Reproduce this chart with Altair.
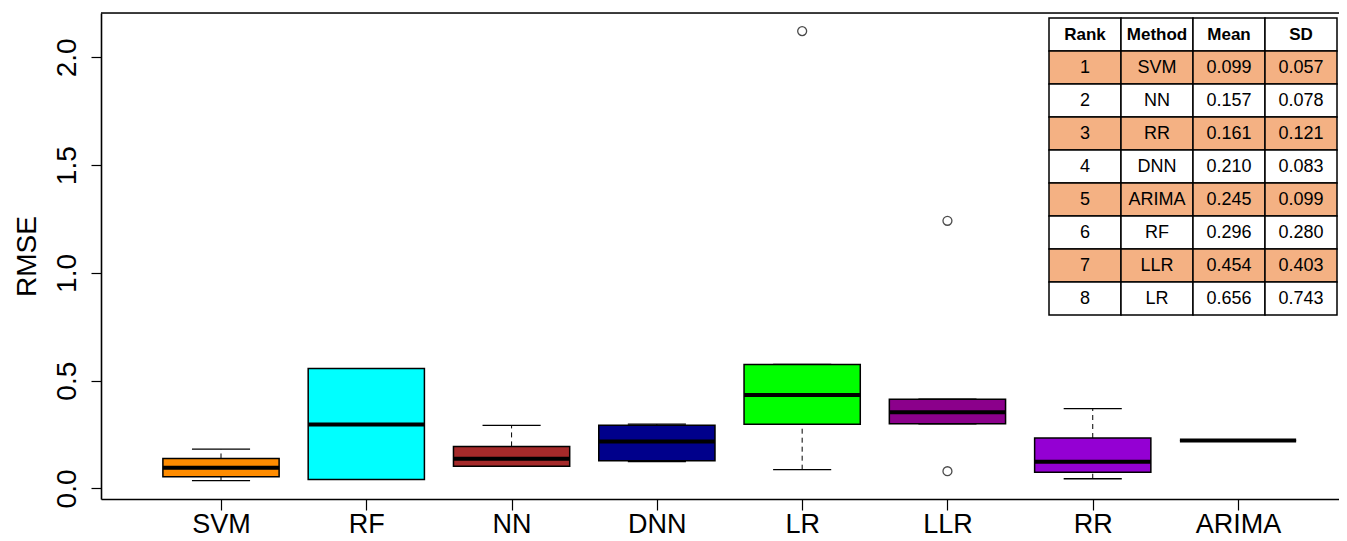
import json
import altair as alt
import pandas as pd

# ---- data ----
methods = ["SVM", "RF", "NN", "DNN", "LR", "LLR", "RR", "ARIMA"]
box_colors = ["#FF8C00", "#00FFFF", "#A52A2A", "#00008B", "#00FF00", "#8B008B", "#9400D3", "#FF0000"]
whisker_lo = [0.036, 0.042, 0.103, 0.124, 0.087, 0.300, 0.045, 0.222]
q1 = [0.054, 0.042, 0.103, 0.128, 0.298, 0.300, 0.075, 0.222]
median = [0.096, 0.297, 0.138, 0.218, 0.434, 0.354, 0.124, 0.222]
q3 = [0.139, 0.556, 0.195, 0.293, 0.575, 0.414, 0.234, 0.222]
whisker_hi = [0.182, 0.556, 0.293, 0.298, 0.575, 0.414, 0.370, 0.222]

outlier_method = ["LR", "LLR", "LLR"]
outlier_value = [2.122, 1.242, 0.080]

table_header = ["Rank", "Method", "Mean", "SD"]
table_rank = [1, 2, 3, 4, 5, 6, 7, 8]
table_method = ["SVM", "NN", "RR", "DNN", "ARIMA", "RF", "LLR", "LR"]
table_mean = [0.099, 0.157, 0.161, 0.210, 0.245, 0.296, 0.454, 0.656]
table_sd = [0.057, 0.078, 0.121, 0.083, 0.099, 0.280, 0.403, 0.743]

# ---- layout ----
W, H = 1238, 486
FONT = "Liberation Sans"
xs = alt.Scale(domain=[0.174, 8.695], nice=False, zero=False)
ys = alt.Scale(domain=[-0.049, 2.206], nice=False, zero=False)

box_df = pd.DataFrame({
    "method": methods,
    "pos": list(range(1, len(methods) + 1)),
    "lo": whisker_lo, "q1": q1, "med": median, "q3": q3, "hi": whisker_hi,
    "color": box_colors,
})
pos_of = {m: i + 1 for i, m in enumerate(methods)}
out_df = pd.DataFrame({"method": outlier_method, "value": outlier_value})
out_df["pos"] = out_df["method"].map(pos_of)

label_expr = json.dumps(methods) + "[datum.value - 1]"
x_axis = alt.Axis(values=list(range(1, 9)), labelExpr=label_expr, title=None, grid=False,
                  tickSize=11, tickColor="black", tickWidth=1.2, labelPadding=1,
                  labelFontSize=27, labelFont=FONT, labelColor="black",
                  domainColor="black", domainWidth=1.6)
y_axis = alt.Axis(values=[0, 0.5, 1.0, 1.5, 2.0], format=".1f", title="RMSE", grid=False,
                  tickSize=10, tickColor="black", tickWidth=1.2,
                  labelAngle=270, labelAlign="center", labelBaseline="alphabetic",
                  labelPadding=16, labelFontSize=28, labelFont=FONT, labelColor="black",
                  domainColor="black", domainWidth=1.6,
                  titleAngle=270, titleX=-66, titleY=243, titleAlign="center",
                  titleBaseline="alphabetic", titleFontSize=28, titleFont=FONT,
                  titleFontWeight="normal", titleColor="black")

base = alt.Chart(box_df).transform_calculate(
    xl="datum.pos - 0.4", xr="datum.pos + 0.4",
    cl="datum.pos - 0.2", cr="datum.pos + 0.2",
)

whisk_up = base.mark_rule(color="black", strokeWidth=1, strokeDash=[5, 4]).encode(
    x=alt.X("pos:Q", scale=xs, axis=x_axis),
    y=alt.Y("q3:Q", scale=ys, axis=y_axis), y2="hi:Q")
whisk_dn = base.mark_rule(color="black", strokeWidth=1, strokeDash=[5, 4]).encode(
    x=alt.X("pos:Q", scale=xs, axis=x_axis),
    y=alt.Y("lo:Q", scale=ys, axis=y_axis), y2="q1:Q")
cap_up = base.mark_rule(color="black", strokeWidth=1.3).encode(
    x=alt.X("cl:Q", scale=xs, axis=x_axis), x2="cr:Q",
    y=alt.Y("hi:Q", scale=ys, axis=y_axis))
cap_dn = base.mark_rule(color="black", strokeWidth=1.3).encode(
    x=alt.X("cl:Q", scale=xs, axis=x_axis), x2="cr:Q",
    y=alt.Y("lo:Q", scale=ys, axis=y_axis))
boxes = base.mark_rect(stroke="black", strokeWidth=1.5).encode(
    x=alt.X("xl:Q", scale=xs, axis=x_axis), x2="xr:Q",
    y=alt.Y("q1:Q", scale=ys, axis=y_axis), y2="q3:Q",
    fill=alt.Fill("color:N", scale=None))
med = base.mark_rule(color="black", strokeWidth=4).encode(
    x=alt.X("xl:Q", scale=xs, axis=x_axis), x2="xr:Q",
    y=alt.Y("med:Q", scale=ys, axis=y_axis))
outs = alt.Chart(out_df).mark_point(shape="circle", filled=False, size=80,
                                     color="black", strokeWidth=1.3).encode(
    x=alt.X("pos:Q", scale=xs, axis=x_axis),
    y=alt.Y("value:Q", scale=ys, axis=y_axis))
top_frame = alt.Chart(pd.DataFrame({"k": [0]})).mark_rule(color="black", strokeWidth=1.6).encode(
    x=alt.value(0), x2=alt.value(W), y=alt.value(0))

plot = alt.layer(whisk_up, whisk_dn, cap_up, cap_dn, boxes, med, outs, top_frame)

# ---- inset table ----
rows = []
for c, h in enumerate(table_header):
    rows.append({"row": 0, "col": h, "text": h, "rank": 0, "header": True})
for i in range(len(table_rank)):
    vals = [str(table_rank[i]), table_method[i], f"{table_mean[i]:.3f}", f"{table_sd[i]:.3f}"]
    for h, v in zip(table_header, vals):
        rows.append({"row": i + 1, "col": h, "text": v, "rank": table_rank[i], "header": False})
tab_df = pd.DataFrame(rows)

tx = alt.Scale(domain=table_header, range=[948, 1236], paddingInner=0, paddingOuter=0)
ty = alt.Scale(domain=list(range(9)), range=[5, 302], paddingInner=0, paddingOuter=0)
tbase = alt.Chart(tab_df)
cells = tbase.mark_rect(stroke="black", strokeWidth=1.5).encode(
    x=alt.X("col:N", scale=tx, axis=None, sort=table_header),
    y=alt.Y("row:O", scale=ty, axis=None),
    fill=alt.condition("datum.rank % 2 == 1", alt.value("#F4B183"), alt.value("white")))
body_txt = tbase.transform_filter("!datum.header").mark_text(
    fontSize=18, font=FONT, color="black", baseline="middle", align="center").encode(
    x=alt.X("col:N", scale=tx, axis=None, sort=table_header),
    y=alt.Y("row:O", scale=ty, axis=None), text="text:N")
head_txt = tbase.transform_filter("datum.header").mark_text(
    fontSize=17, font=FONT, fontWeight="bold", color="black", baseline="middle", align="center").encode(
    x=alt.X("col:N", scale=tx, axis=None, sort=table_header),
    y=alt.Y("row:O", scale=ty, axis=None), text="text:N")
table = alt.layer(cells, body_txt, head_txt)

chart = alt.layer(plot, table).resolve_scale(x="independent", y="independent").properties(
    width=W, height=H,
    autosize=alt.AutoSizeParams(type="none"),
    padding={"left": 93, "top": 5, "right": 0, "bottom": 42},
).configure_view(stroke=None).configure(font=FONT, background="white")

chart.save("out.html", embed_options={"renderer": "svg", "actions": False})
